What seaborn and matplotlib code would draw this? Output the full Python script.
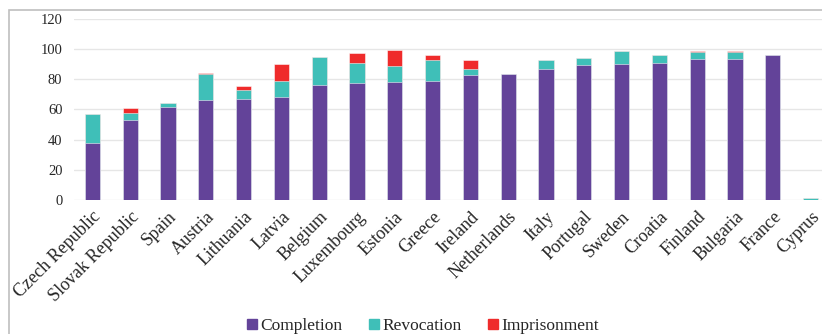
import matplotlib
matplotlib.use("Agg")
import matplotlib.pyplot as plt
from matplotlib.lines import Line2D
from matplotlib.patches import Rectangle
import numpy as np
import pandas as pd
import seaborn as sns

countries = ["Czech Republic", "Slovak Republic", "Spain", "Austria", "Lithuania",
             "Latvia", "Belgium", "Luxembourg", "Estonia", "Greece", "Ireland",
             "Netherlands", "Italy", "Portugal", "Sweden", "Croatia", "Finland",
             "Bulgaria", "France", "Cyprus"]
completion = [37.5, 52.8, 61.6, 66.0, 66.9, 68.4, 76.2, 77.5, 78.3, 79.0, 82.6,
              83.6, 86.6, 89.4, 89.9, 90.5, 93.2, 93.6, 96.0, 0.0]
revocation = [19.3, 5.0, 2.8, 17.4, 6.1, 10.4, 18.3, 13.0, 10.6, 13.7, 4.0,
              0.0, 5.9, 4.6, 9.0, 5.3, 5.0, 4.4, 0.0, 1.0]
imprisonment = [0.0, 3.1, 0.0, 1.0, 2.3, 11.1, 0.0, 7.1, 10.2, 3.1, 6.3,
                0.0, 0.0, 0.0, 0.0, 0.0, 0.7, 1.0, 0.0, 0.0]
yticks = [0, 20, 40, 60, 80, 100, 120]

C_COMP = "#634399"
C_REV = "#3fbfb8"
C_IMP = "#ef2b2b"

df = pd.DataFrame({"country": countries,
                   "completion": completion,
                   "revocation": revocation,
                   "imprisonment": imprisonment})
df["cum_rev"] = df["completion"] + df["revocation"]
df["cum_imp"] = df["cum_rev"] + df["imprisonment"]

sns.set_theme(style="white")
plt.rcParams["font.family"] = ["Liberation Serif", "DejaVu Serif"]

fig = plt.figure(figsize=(8.22, 3.34), dpi=100)
W, H = 822, 334
ax = fig.add_axes([73.5 / W, (H - 200) / H, 756 / W, 181.2 / H])

bar_kw = dict(width=0.4, edgecolor=(1, 1, 1, 0.6), linewidth=0.6, ax=ax,
              order=countries, zorder=3)
sns.barplot(data=df, x="country", y="cum_imp", color=C_IMP, saturation=1, **bar_kw)
sns.barplot(data=df, x="country", y="cum_rev", color=C_REV, saturation=1, **bar_kw)
sns.barplot(data=df, x="country", y="completion", color=C_COMP, saturation=1, **bar_kw)

ax.set_ylim(0, 120)
ax.set_xlim(-0.5, len(countries) - 0.5)
ax.set_yticks(yticks)
ax.set_yticklabels([str(v) for v in yticks], fontsize=10.5)
ax.grid(axis="y", color="#e6e6e6", linewidth=1.0, zorder=0)
ax.set_axisbelow(True)
for s in ax.spines.values():
    s.set_visible(False)
ax.tick_params(axis="both", length=0)
ax.tick_params(axis="y", pad=8)
ax.tick_params(axis="x", pad=6)
ax.set_xlabel("")
ax.set_ylabel("")
ax.set_xticks(range(len(countries)))
ax.set_xticklabels(countries, rotation=45, ha="right", rotation_mode="anchor",
                   fontsize=13)

# outer chart frame
fig.patches.append(Rectangle((9 / W, -0.2), 1.2, 1.2 - 10 / H,
                             transform=fig.transFigure, fill=False,
                             edgecolor="#bfbfbf", linewidth=1.2, zorder=0))

handles = [Line2D([], [], marker="s", linestyle="", markersize=7.5, color=c)
           for c in (C_COMP, C_REV, C_IMP)]
fig.legend(handles, ["Completion", "Revocation", "Imprisonment"], loc="center",
           bbox_to_anchor=(422.5 / W, 1 - 325.5 / H), ncol=3, frameon=False,
           fontsize=12.5, handletextpad=0.15, columnspacing=1.45, handlelength=0.7,
           borderpad=0, borderaxespad=0)

fig.savefig("out.png", dpi=100)
